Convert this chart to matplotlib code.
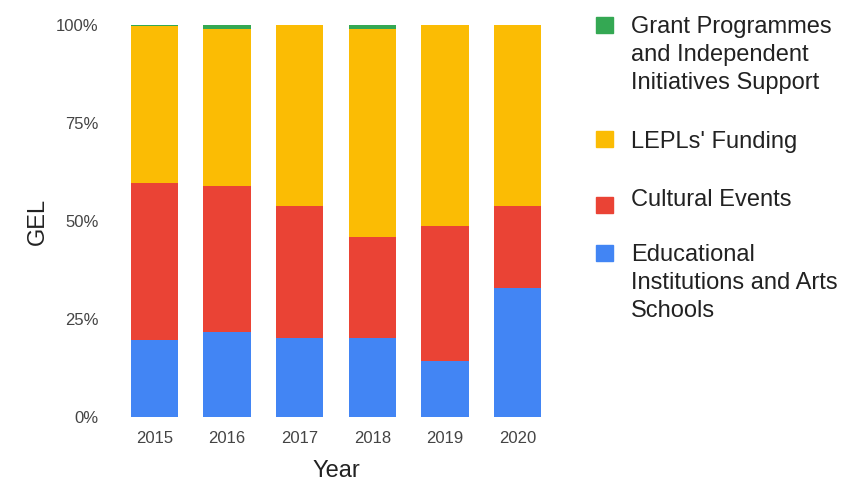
import numpy as np
import matplotlib.pyplot as plt
from matplotlib.patches import Rectangle

# shares of spending (%)
years = ["2015", "2016", "2017", "2018", "2019", "2020"]
educational = [19.6, 21.8, 20.2, 20.2, 14.4, 32.9]
cultural = [40.2, 37.1, 33.7, 25.7, 34.4, 21.0]
lepls = [39.9, 40.1, 46.1, 53.1, 51.2, 46.1]
grants = [0.3, 1.0, 0.0, 1.0, 0.0, 0.0]

labels = [
    "Grant Programmes\nand Independent\nInitiatives Support",
    "LEPLs' Funding",
    "Cultural Events",
    "Educational\nInstitutions and Arts\nSchools",
]
colors = ["#34A853", "#FBBC04", "#EA4335", "#4285F4"]

plt.rcParams["font.family"] = ["Liberation Sans", "DejaVu Sans"]

W, H = 847, 482
fig = plt.figure(figsize=(W / 100, H / 100), dpi=100)
ax = fig.add_axes([118 / W, 65 / H, (554 - 118) / W, (417 - 25) / H])

x = np.arange(len(years))
series = [educational, cultural, lepls, grants]
series_colors = colors[::-1]
bottom = np.zeros(len(years))
for vals, c in zip(series, series_colors):
    ax.bar(x, vals, width=0.65, bottom=bottom, color=c, zorder=2)
    bottom += np.array(vals)

ax.set_xlim(-0.5, len(years) - 0.5)
ax.set_ylim(0, 100)
ax.set_xticks(x, years)
ax.set_yticks([0, 25, 50, 75, 100], ["0%", "25%", "50%", "75%", "100%"])
for s in ax.spines.values():
    s.set_visible(False)
ax.tick_params(length=0, labelsize=12, colors="#444444")
ax.tick_params(axis="y", pad=14)
ax.tick_params(axis="x", pad=10)
ax.set_xlabel("Year", fontsize=17, color="#222222", labelpad=10)
ax.set_ylabel("GEL", fontsize=17, color="#222222", labelpad=5)

# legend drawn by hand so the swatch sits on the first line of each label
swatch_top = [17, 131, 197, 245]
text_top = [16, 131, 189, 244]
for lab, c, sy, ty in zip(labels, colors, swatch_top, text_top):
    fig.add_artist(Rectangle((596 / W, 1 - (sy + 16) / H), 17 / W, 16 / H,
                             transform=fig.transFigure, color=c))
    fig.text(631 / W, 1 - ty / H, lab, fontsize=17, color="#222222",
             va="top", ha="left", linespacing=1.35)

fig.savefig("out.png", dpi=100)
